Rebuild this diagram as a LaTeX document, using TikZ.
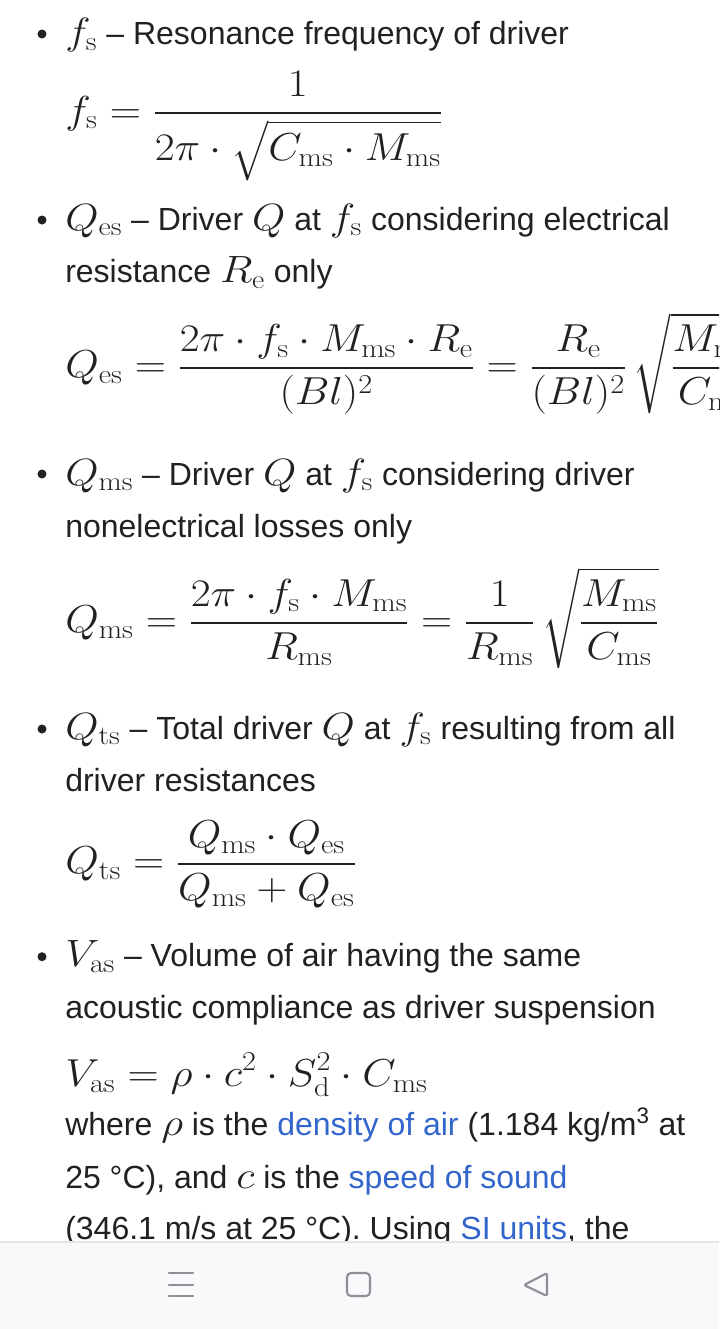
\documentclass[tikz,border=0pt]{standalone}
\usepackage{fix-cm}
\usepackage{amsmath}
\usepackage{graphicx}
\usepackage[no-math]{fontspec}
\setmainfont{Liberation Sans}
\definecolor{ink}{HTML}{202122}
\definecolor{link}{HTML}{3366CC}
\definecolor{navbg}{HTML}{F8F9FB}
\definecolor{navline}{HTML}{E3E5E8}
\definecolor{icon}{HTML}{8E9094}
\newcommand{\mth}[1]{\scalebox{1.13}[1]{\fontsize{28.5}{28}\selectfont$#1$}}
\newcommand{\dsp}[1]{\scalebox{1.11}[1]{$\displaystyle #1$}}
\newcommand{\frc}[2]{\genfrac{}{}{1.5pt}{}{#1}{#2}}
\newcommand{\tall}{\vrule height0.9em depth0pt width0pt}
\newcommand{\dip}{\vrule height0pt depth0.27em width0pt}
\begin{document}
\begin{tikzpicture}[x=0.75pt, y=-0.75pt, line cap=round, line join=round,
  txt/.style={anchor=base west, inner sep=0, text=ink, font=\fontsize{24}{28}\selectfont},
  eqn/.style={anchor=base west, inner sep=0, text=ink, font=\fontsize{29.25}{35}\selectfont},
  bul/.style={circle, fill=ink, inner sep=0, minimum size=6.75pt},
  icn/.style={draw=icon, line width=1.6pt}]
  \useasboundingbox (0,0) rectangle (719,1329);
  \fill[white] (0,0) rectangle (719,1329);
  \clip (0,0) rectangle (719,1329);

  % resonance frequency
  \node[bul] (b1) at (42,34) {};
  \node[txt] (t1) at (65,44.3) {\mth{f_\mathrm{s}} – Resonance frequency of driver};
  \node[eqn] (e1) at (65,123) {\dsp{f_\mathrm{s} = \frc{1}{\tall 2\pi\cdot\sqrt{C_\mathrm{ms}\cdot M_\mathrm{ms}\dip}}}};

  % electrical Q
  \node[bul] (b2) at (42,220) {};
  \node[txt] (t2) at (65,230) {\mth{Q_\mathrm{es}} – Driver \mth{Q} at \mth{f_\mathrm{s}} considering electrical};
  \node[txt] (t2b) at (65,282.7) {resistance \mth{R_\mathrm{e}} only};
  \node[eqn] (e2) at (65,377.8) {\dsp{Q_\mathrm{es} = \frc{2\pi\cdot f_\mathrm{s}\cdot M_\mathrm{ms}\cdot R_\mathrm{e}}{(Bl)^2} = \frc{R_\mathrm{e}}{(Bl)^2}\,\sqrt{\frc{M_\mathrm{ms}}{C_\mathrm{ms}}}}};

  % mechanical Q
  \node[bul] (b3) at (42,474) {};
  \node[txt] (t3) at (65,485) {\mth{Q_\mathrm{ms}} – Driver \mth{Q} at \mth{f_\mathrm{s}} considering driver};
  \node[txt] (t3b) at (65,537.7) {nonelectrical losses only};
  \node[eqn] (e3) at (65,632.5) {\dsp{Q_\mathrm{ms} = \frc{2\pi\cdot f_\mathrm{s}\cdot M_\mathrm{ms}}{R_\mathrm{ms}} = \frc{1}{R_\mathrm{ms}}\,\sqrt{\frc{M_\mathrm{ms}}{C_\mathrm{ms}}}}};

  % total Q
  \node[bul] (b4) at (42,729) {};
  \node[txt] (t4) at (65,739) {\mth{Q_\mathrm{ts}} – Total driver \mth{Q} at \mth{f_\mathrm{s}} resulting from all};
  \node[txt] (t4b) at (65,791.7) {driver resistances};
  \node[eqn] (e4) at (65,873.8) {\dsp{Q_\mathrm{ts} = \frc{Q_\mathrm{ms}\cdot Q_\mathrm{es}}{Q_\mathrm{ms}+Q_\mathrm{es}}}};

  % equivalent volume
  \node[bul] (b5) at (42,956.7) {};
  \node[txt] (t5) at (65,966.7) {\mth{V_\mathrm{as}} – Volume of air having the same};
  \node[txt] (t5b) at (65,1018) {acoustic compliance as driver suspension};
  \node[eqn] (e5) at (65,1086.7) {\dsp{V_\mathrm{as} = \rho\cdot c^2\cdot S_\mathrm{d}^2\cdot C_\mathrm{ms}}};
  \node[txt] (t6) at (65,1135) {where \mth{\rho} is the \textcolor{link}{density of air} (1.184 kg/m\textsuperscript{3} at};
  \node[txt] (t6b) at (65,1188.3) {25 °C), and \mth{c} is the \textcolor{link}{speed of sound}};
  \node[txt] (t6c) at (65,1239.5) {(346.1 m/s at 25 °C). Using \textcolor{link}{SI units}, the};

  % navigation bar
  \fill[navbg] (0,1242) rectangle (719,1329);
  \draw[navline, line width=1pt] (0,1242) -- (719,1242);
  \foreach \y in {1273,1285,1296}
    \draw[icn] (169,\y) -- (193,\y);
  \draw[icn, rounded corners=3pt] (347,1273) rectangle (370,1296);
  \draw[icn, rounded corners=1.5pt] (547,1273) -- (524,1285) -- (547,1296) -- cycle;
\end{tikzpicture}
\end{document}
